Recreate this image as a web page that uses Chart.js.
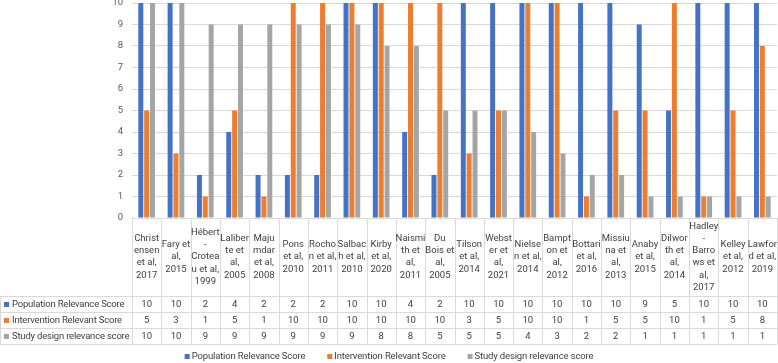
<!DOCTYPE html>
<html>
<head>
<meta charset="utf-8">
<script src="https://cdn.jsdelivr.net/npm/chart.js@4.4.1/dist/chart.umd.min.js"></script>
<style>
  html, body { margin: 0; padding: 0; background: #fff; }
  canvas { display: block; }
</style>
</head>
<body>
<canvas id="scoreChart" width="778" height="363"></canvas>
<script>
// Study names, already broken into the lines shown in the table header
const studies = [
    ['Christ', 'ensen', 'et al,', '2017'],
    ['Fary et', 'al,', '2015'],
    ['Hébert', '-', 'Crotea', 'u et al,', '1999'],
    ['Laliber', 'te et', 'al,', '2005'],
    ['Maju', 'mdar', 'et al,', '2008'],
    ['Pons', 'et al,', '2010'],
    ['Rocho', 'n et al,', '2011'],
    ['Salbac', 'h et al,', '2010'],
    ['Kirby', 'et al,', '2020'],
    ['Naismi', 'th et', 'al,', '2011'],
    ['Du', 'Bois et', 'al,', '2005'],
    ['Tilson', 'et al,', '2014'],
    ['Webst', 'er et', 'al,', '2021'],
    ['Nielse', 'n et al,', '2014'],
    ['Bampt', 'on et', 'al,', '2012'],
    ['Bottari', 'et al,', '2016'],
    ['Missiu', 'na et', 'al,', '2013'],
    ['Anaby', 'et al,', '2015'],
    ['Dilwor', 'th et', 'al,', '2014'],
    ['Hadley', '-', 'Barro', 'ws et', 'al,', '2017'],
    ['Kelley', 'et al,', '2012'],
    ['Lawfor', 'd et al,', '2019']
];

const seriesNames = ['Population Relevance Score', 'Intervention Relevant Score', 'Study design relevance score'];
const seriesColors = ['#4472C4', '#ED7D31', '#A5A5A5'];

const populationScores   = [10, 10, 2, 4, 2, 2, 2, 10, 10, 4, 2, 10, 10, 10, 10, 10, 10, 9, 5, 10, 10, 10];
const interventionScores = [5, 3, 1, 5, 1, 10, 10, 10, 10, 10, 10, 3, 5, 10, 10, 1, 5, 5, 10, 1, 5, 8];
const designScores       = [10, 10, 9, 9, 9, 9, 9, 9, 8, 8, 5, 5, 5, 4, 3, 2, 2, 1, 1, 1, 1, 1];

const yMin = 0;
const yMax = 10;
const yStep = 1;

const FONT = '"Roboto", "Liberation Sans", sans-serif';
const textColor = '#404040';
const lineColor = '#D9D9D9';

// Excel style data table under the plot, plus the legend
const dataTable = {
    id: 'dataTable',
    afterDraw(chart) {
        const ctx = chart.ctx;
        const xs = chart.scales.x;
        const area = chart.chartArea;
        const n = studies.length;
        const colW = xs.width / n;
        const headTop = area.bottom;
        const headBottom = headTop + 78;
        const rowH = 16;
        const tableBottom = headBottom + rowH * chart.data.datasets.length;

        ctx.save();
        ctx.strokeStyle = lineColor;
        ctx.lineWidth = 1;
        ctx.beginPath();
        for (let i = 0; i <= n; i++) {
            const lx = Math.round(xs.left + i * colW) + 0.5;
            ctx.moveTo(lx, headTop);
            ctx.lineTo(lx, tableBottom);
        }
        for (let r = 0; r <= chart.data.datasets.length; r++) {
            const ly = Math.round(headBottom + r * rowH) + 0.5;
            ctx.moveTo(0, ly);
            ctx.lineTo(xs.right, ly);
        }
        ctx.moveTo(0.5, headBottom);
        ctx.lineTo(0.5, tableBottom);
        ctx.stroke();

        ctx.font = '9.5px ' + FONT;
        ctx.fillStyle = textColor;
        ctx.textAlign = 'center';
        ctx.textBaseline = 'middle';

        // header labels
        const lineH = 12.2;
        const midY = (headTop + headBottom) / 2;
        studies.forEach((lines, i) => {
            const cx = xs.getPixelForValue(i);
            const y0 = midY - (lines.length - 1) * lineH / 2;
            lines.forEach((t, k) => ctx.fillText(t, cx, y0 + k * lineH));
        });

        // value rows
        chart.data.datasets.forEach((ds, r) => {
            const cy = headBottom + r * rowH + rowH / 2 + 0.5;
            ctx.fillStyle = ds.backgroundColor;
            ctx.fillRect(4, cy - 2.5, 5, 5);
            ctx.fillStyle = textColor;
            ctx.textAlign = 'left';
            ctx.letterSpacing = '-0.2px';
            ctx.fillText(ds.label, 12, cy);
            ctx.letterSpacing = '0px';
            ctx.textAlign = 'center';
            ds.data.forEach((v, i) => ctx.fillText(String(v), xs.getPixelForValue(i), cy));
        });

        // legend
        ctx.letterSpacing = '-0.15px';
        const gap = 22;
        const widths = chart.data.datasets.map(ds => 7 + ctx.measureText(ds.label).width);
        const total = widths.reduce((a, b) => a + b, 0) + gap * (widths.length - 1);
        let lx = (chart.width - total) / 2;
        const ly = 357;
        ctx.textAlign = 'left';
        chart.data.datasets.forEach((ds, r) => {
            ctx.fillStyle = ds.backgroundColor;
            ctx.fillRect(lx, ly - 3, 5, 5);
            ctx.fillStyle = textColor;
            ctx.fillText(ds.label, lx + 7, ly);
            lx += widths[r] + gap;
        });
        ctx.restore();
    }
};

const scoreChartCtx = document.getElementById('scoreChart').getContext('2d');

const scoreChart = new Chart(scoreChartCtx, {
    type: 'bar',
    data: {
        labels: studies,
        datasets: [
            { label: seriesNames[0], data: populationScores, backgroundColor: seriesColors[0] },
            { label: seriesNames[1], data: interventionScores, backgroundColor: seriesColors[1] },
            { label: seriesNames[2], data: designScores, backgroundColor: seriesColors[2] }
        ]
    },
    options: {
        responsive: false,
        animation: false,
        layout: { padding: { left: 0, right: 1, top: 0, bottom: 145 } },
        datasets: { bar: { categoryPercentage: 0.6, barPercentage: 0.85 } },
        plugins: {
            legend: { display: false },
            tooltip: { enabled: false }
        },
        scales: {
            x: { display: false },
            y: {
                min: yMin,
                max: yMax,
                ticks: { stepSize: yStep, padding: 9, color: '#595959', font: { family: FONT, size: 9.5 } },
                grid: { color: lineColor, drawTicks: false },
                border: { display: false },
                afterFit(scale) {
                    scale.width = 132;
                    scale.paddingTop = 3;
                    scale.paddingBottom = 0;
                }
            }
        }
    },
    plugins: [dataTable]
});
</script>
</body>
</html>
